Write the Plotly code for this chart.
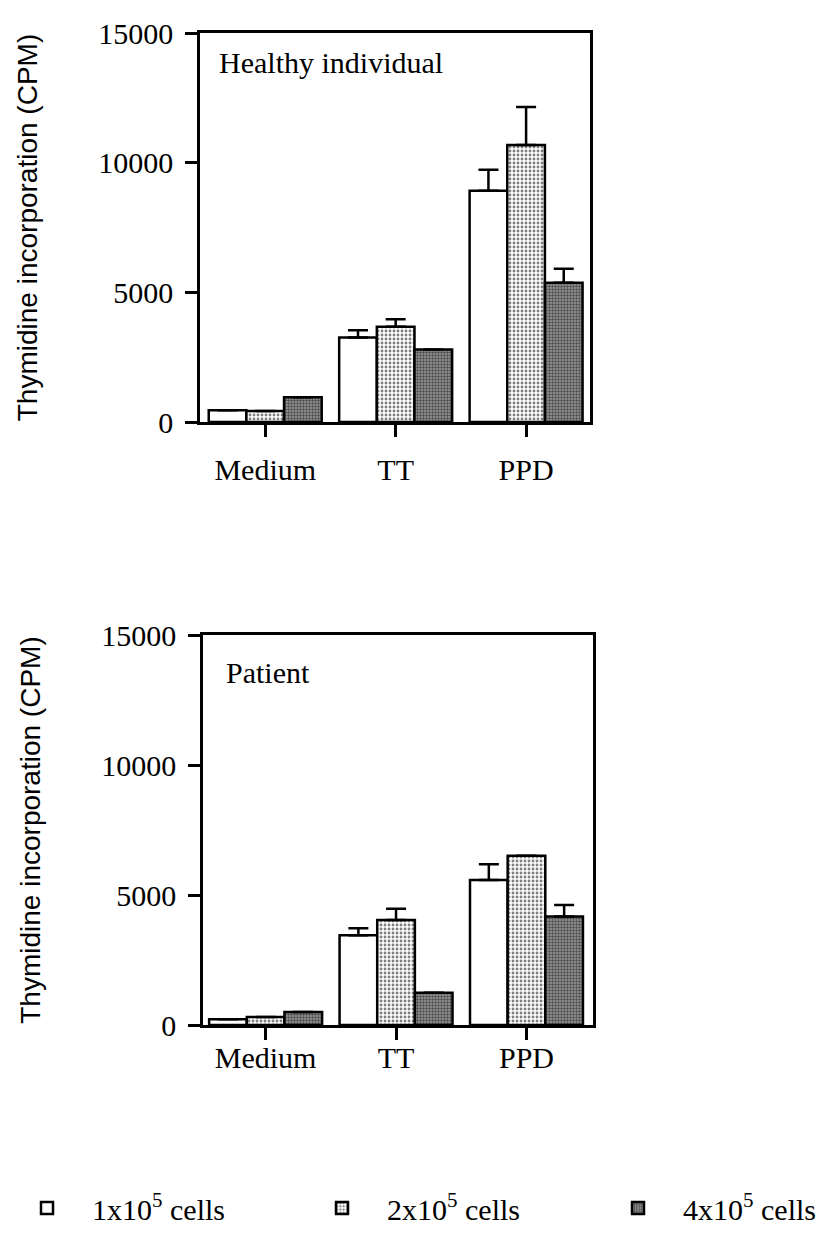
import plotly.graph_objects as go

categories = ["Medium", "TT", "PPD"]
series_names = ["1x10<sup>5</sup> cells", "2x10<sup>5</sup> cells", "4x10<sup>5</sup> cells"]

healthy_1x = [450, 3260, 8920]
healthy_2x = [420, 3670, 10680]
healthy_4x = [950, 2800, 5370]
healthy_err_1x = [None, 280, 810]
healthy_err_2x = [None, 290, 1470]
healthy_err_4x = [None, None, 540]

patient_1x = [220, 3450, 5580]
patient_2x = [310, 4040, 6510]
patient_4x = [500, 1240, 4170]
patient_err_1x = [None, 270, 600]
patient_err_2x = [None, 430, None]
patient_err_4x = [None, None, 450]

y_ticks = [0, 5000, 10000, 15000]
y_ticktext = ["0", "5000", "10000", "15000"]
panel_titles = ["Healthy individual", "Patient"]
y_title = "Thymidine incorporation (CPM)"

SERIF = "Liberation Serif, Times New Roman, serif"
SANS = "Liberation Sans, Arial, sans-serif"

W, H = 826, 1226  # page adds an 8px body margin

patterns = [
    dict(shape="", bgcolor="white"),
    dict(shape=".", fgcolor="black", bgcolor="white", size=4, solidity=0.4),
    dict(shape=".", fgcolor="black", bgcolor="#9a9a9a", size=3, solidity=0.5),
]
legend_ids = ["legend", "legend2", "legend3"]
legend_x = [-6, 289, 585]

fig = go.Figure()

panels = [
    ([healthy_1x, healthy_2x, healthy_4x], [healthy_err_1x, healthy_err_2x, healthy_err_4x], "x", "y"),
    ([patient_1x, patient_2x, patient_4x], [patient_err_1x, patient_err_2x, patient_err_4x], "x2", "y2"),
]

for p, (vals, errs, xa, ya) in enumerate(panels):
    for i in range(3):
        fig.add_trace(go.Bar(
            x=categories, y=vals[i], name=series_names[i],
            xaxis=xa, yaxis=ya,
            legend=legend_ids[i], legendgroup=str(i), showlegend=(p == 0),
            marker=dict(color="white", line=dict(color="black", width=2.5), pattern=patterns[i]),
            error_y=dict(type="data", array=errs[i], arrayminus=[0, 0, 0], symmetric=False,
                         color="black", thickness=2.5, width=10, visible=True),
        ))

axis_common = dict(showline=True, linecolor="black", linewidth=2.5, mirror=True,
                   ticks="outside", tickcolor="black", tickwidth=2.5, ticklen=12,
                   showgrid=False, zeroline=False, automargin=False,
                   tickfont=dict(family=SERIF, size=30, color="black"))

legend_common = dict(orientation="h", xanchor="left", y=0, yanchor="bottom",
                     itemwidth=80,
                     font=dict(family=SERIF, size=30, color="black"), bgcolor="rgba(0,0,0,0)")

title_font = dict(family=SANS, size=28, color="black")

fig.update_layout(
    width=W, height=H,
    margin=dict(l=0, r=0, t=0, b=0, autoexpand=False),
    paper_bgcolor="white", plot_bgcolor="white",
    barmode="group", bargap=0.134, bargroupgap=0,
    xaxis=dict(domain=[192/W, 582/W], anchor="y", range=[-0.5, 2.49],
               ticklabelstandoff=7, **axis_common),
    yaxis=dict(domain=[1-414/H, 1-25/H], anchor="x", range=[0, 15000],
               tickvals=y_ticks, ticktext=y_ticktext, ticklabelstandoff=6,
               title=dict(text=y_title, font=title_font, standoff=53),
               **axis_common),
    xaxis2=dict(domain=[195/W, 585/W], anchor="y2", range=[-0.48, 2.51],
                ticklabelstandoff=-8, **axis_common),
    yaxis2=dict(domain=[1-1017/H, 1-627/H], anchor="x2", range=[0, 15000],
                tickvals=y_ticks, ticktext=y_ticktext, ticklabelstandoff=6,
                title=dict(text=y_title, font=title_font, standoff=53),
                **axis_common),
    legend=dict(x=legend_x[0]/W, **legend_common),
    legend2=dict(x=legend_x[1]/W, **legend_common),
    legend3=dict(x=legend_x[2]/W, **legend_common),
    annotations=[
        dict(text=panel_titles[0], xref="x domain", yref="y domain", x=0.044, y=0.925,
             xanchor="left", yanchor="middle", showarrow=False,
             font=dict(family=SERIF, size=30, color="black")),
        dict(text=panel_titles[1], xref="x2 domain", yref="y2 domain", x=0.054, y=0.905,
             xanchor="left", yanchor="middle", showarrow=False,
             font=dict(family=SERIF, size=30, color="black")),
    ],
)

fig.write_html("out.html")
